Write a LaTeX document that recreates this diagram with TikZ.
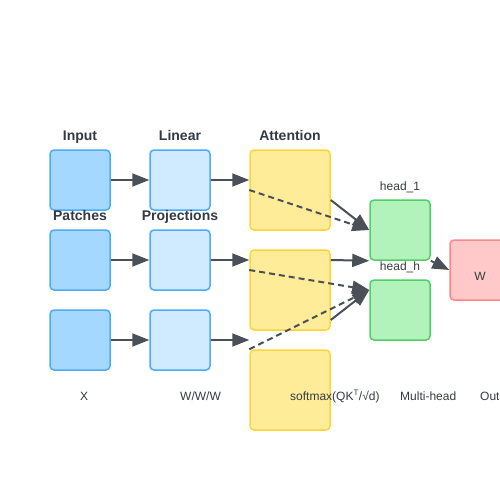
\documentclass[tikz,border=0pt]{standalone}
\usepackage{fontspec}
\setmainfont{Liberation Sans}
\usepackage{tikz}
\usepackage{xcolor}
\usetikzlibrary{positioning, arrows.meta}
\definecolor{patchfill}{HTML}{A5D8FF}
\definecolor{projfill}{HTML}{D0EBFF}
\definecolor{bluedraw}{HTML}{4DABF7}
\definecolor{attfill}{HTML}{FFEC99}
\definecolor{attdraw}{HTML}{FFD43B}
\definecolor{headfill}{HTML}{B2F2BB}
\definecolor{headdraw}{HTML}{51CF66}
\definecolor{outfill}{HTML}{FFC9C9}
\definecolor{outdraw}{HTML}{FF8787}
\definecolor{arrowgray}{HTML}{495057}
\definecolor{textdark}{HTML}{343A40}
\tikzset{
    box/.style={draw, rounded corners=4pt, line width=1.5pt, minimum width=60pt, minimum height=60pt, inner sep=0pt},
    patchbox/.style={box, fill=patchfill, draw=bluedraw},
    projbox/.style={box, fill=projfill, draw=bluedraw},
    attbox/.style={box, fill=attfill, draw=attdraw, minimum width=80pt, minimum height=80pt},
    headbox/.style={box, fill=headfill, draw=headdraw},
    outbox/.style={box, fill=outfill, draw=outdraw},
    title/.style={font=\fontsize{14}{16}\selectfont\bfseries, text=textdark, inner sep=0pt, anchor=base},
    tag/.style={font=\fontsize{12}{14}\selectfont, text=textdark, inner sep=0pt, anchor=base},
    flow/.style={-{Triangle[length=17pt,width=13pt]}, line width=2pt, draw=arrowgray},
    flowdash/.style={flow, dash pattern=on 6pt off 4pt}
}
\begin{document}
\begin{tikzpicture}[x=1pt, y=-1pt]
    \useasboundingbox (0,0) rectangle (500,500);

    % Patch and projection columns
    \node[patchbox] (in1) at (80,180) {};
    \node[patchbox] (in2) at (80,260) {};
    \node[patchbox] (in3) at (80,340) {};
    \node[projbox] (lin1) at (180,180) {};
    \node[projbox] (lin2) at (180,260) {};
    \node[projbox] (lin3) at (180,340) {};

    % Attention blocks, heads and output
    \node[attbox] (att1) at (290,190) {};
    \node[attbox] (att2) at (290,290) {};
    \node[attbox] (att3) at (290,390) {};
    \node[headbox] (head1) at (400,230) {};
    \node[headbox] (headh) at (400,310) {};
    \node[outbox] (out) at (480,270) {};
    \node[tag] (lout) at (480,280) {W};

    % Column titles
    \node[title] (tinput) at (80,140) {Input};
    \node[title] (tpatch) at (80,220) {Patches};
    \node[title] (tlinear) at (180,140) {Linear};
    \node[title] (tproj) at (180,220) {Projections};
    \node[title] (tatt) at (290,140) {Attention};
    \node[tag] (lhead1) at (400,190) {head\_1};
    \node[tag] (lheadh) at (400,270) {head\_h};

    % Bottom captions
    \node[tag, anchor=base west] (cx) at (80,400) {X};
    \node[tag, anchor=base west] (cw) at (180,400) {W/W/W};
    \node[tag, anchor=base west] (csoft) at (290,400) {softmax(QK\textsuperscript{T}/√d)};
    \node[tag, anchor=base west] (cmulti) at (400,400) {Multi-head};
    \node[tag, anchor=base west] (cout) at (480,400) {Output};

    % Connectors
    \draw[flow] (in1) -- (lin1);
    \draw[flow] (in2) -- (lin2);
    \draw[flow] (in3) -- (lin3);
    \draw[flow] (lin1) -- (lin1.east -| att1.west);
    \draw[flow] (lin2) -- (lin2.east -| att2.west);
    \draw[flow] (lin3) -- (lin3.east -| att3.west);
    \draw[flowdash] (att1.west) -- (head1.west);
    \draw[flow] ([yshift=-10pt]att1.east) -- (head1.west);
    \draw[flow] ([yshift=30pt]att2.east) -- (head1.south west);
    \draw[flowdash] ([yshift=20pt]att2.west) -- ([yshift=20pt]headh.west);
    \draw[flowdash] (att3.north west) -- ([yshift=20pt]headh.west);
    \draw[flow] ([yshift=-30pt]att2.east) -- ([yshift=20pt]headh.west);
    \draw[flow] (head1.south east) -- (out.west);
\end{tikzpicture}
\end{document}
